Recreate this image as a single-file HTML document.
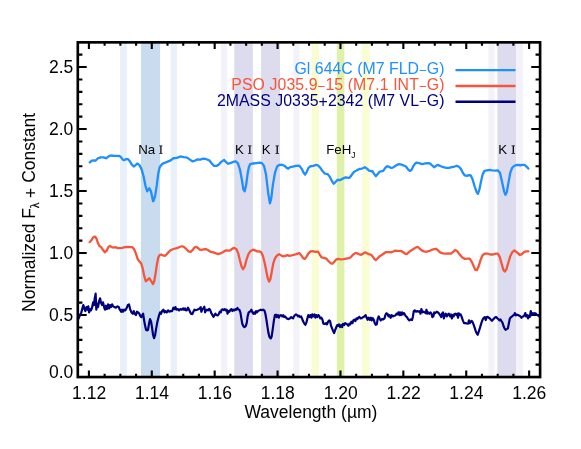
<!DOCTYPE html>
<html><head><meta charset="utf-8"><title>Spectra</title>
<style>html,body{margin:0;padding:0;background:#fff;}svg{display:block;will-change:transform;}text{font-family:"Liberation Sans",sans-serif;fill:#000;}.sf{font-family:"Liberation Serif",serif;}</style></head><body>
<svg width="581" height="449" viewBox="0 0 581 449">
<rect width="581" height="449" fill="#fff"/>
<rect x="120.1" y="42.35" width="6.8" height="334.7" fill="#e8f0fa"/>
<rect x="141.0" y="42.35" width="19.1" height="334.7" fill="#c9dcef"/>
<rect x="170.7" y="42.35" width="6.2" height="334.7" fill="#e8f0fa"/>
<rect x="221.0" y="42.35" width="6.2" height="334.7" fill="#f3f2f9"/>
<rect x="234.2" y="42.35" width="18.7" height="334.7" fill="#dcdcee"/>
<rect x="261.1" y="42.35" width="18.9" height="334.7" fill="#dcdcee"/>
<rect x="293.4" y="42.35" width="6.0" height="334.7" fill="#f3f2f9"/>
<rect x="311.7" y="42.35" width="7.3" height="334.7" fill="#fafcd2"/>
<rect x="336.8" y="42.35" width="7.6" height="334.7" fill="#dff0a8"/>
<rect x="362.2" y="42.35" width="7.3" height="334.7" fill="#fafcd2"/>
<rect x="488.3" y="42.35" width="6.3" height="334.7" fill="#f3f2f9"/>
<rect x="497.4" y="42.35" width="18.8" height="334.7" fill="#dcdcee"/>
<rect x="516.2" y="42.35" width="6.7" height="334.7" fill="#f3f2f9"/>
<path d="M88.90,377.05 v-6.6 M88.90,42.35 v6.6 M104.62,377.05 v-3.4 M104.62,42.35 v3.4 M120.35,377.05 v-3.4 M120.35,42.35 v3.4 M136.07,377.05 v-3.4 M136.07,42.35 v3.4 M151.79,377.05 v-6.6 M151.79,42.35 v6.6 M167.51,377.05 v-3.4 M167.51,42.35 v3.4 M183.24,377.05 v-3.4 M183.24,42.35 v3.4 M198.96,377.05 v-3.4 M198.96,42.35 v3.4 M214.68,377.05 v-6.6 M214.68,42.35 v6.6 M230.40,377.05 v-3.4 M230.40,42.35 v3.4 M246.13,377.05 v-3.4 M246.13,42.35 v3.4 M261.85,377.05 v-3.4 M261.85,42.35 v3.4 M277.57,377.05 v-6.6 M277.57,42.35 v6.6 M293.29,377.05 v-3.4 M293.29,42.35 v3.4 M309.02,377.05 v-3.4 M309.02,42.35 v3.4 M324.74,377.05 v-3.4 M324.74,42.35 v3.4 M340.46,377.05 v-6.6 M340.46,42.35 v6.6 M356.18,377.05 v-3.4 M356.18,42.35 v3.4 M371.91,377.05 v-3.4 M371.91,42.35 v3.4 M387.63,377.05 v-3.4 M387.63,42.35 v3.4 M403.35,377.05 v-6.6 M403.35,42.35 v6.6 M419.07,377.05 v-3.4 M419.07,42.35 v3.4 M434.80,377.05 v-3.4 M434.80,42.35 v3.4 M450.52,377.05 v-3.4 M450.52,42.35 v3.4 M466.24,377.05 v-6.6 M466.24,42.35 v6.6 M481.96,377.05 v-3.4 M481.96,42.35 v3.4 M497.68,377.05 v-3.4 M497.68,42.35 v3.4 M513.41,377.05 v-3.4 M513.41,42.35 v3.4 M529.13,377.05 v-6.6 M529.13,42.35 v6.6 M77.8,364.65 h4.6 M540.15,364.65 h-4.6 M77.8,352.25 h4.6 M540.15,352.25 h-4.6 M77.8,339.85 h4.6 M540.15,339.85 h-4.6 M77.8,327.45 h4.6 M540.15,327.45 h-4.6 M77.8,315.05 h8.9 M540.15,315.05 h-8.9 M77.8,302.65 h4.6 M540.15,302.65 h-4.6 M77.8,290.25 h4.6 M540.15,290.25 h-4.6 M77.8,277.85 h4.6 M540.15,277.85 h-4.6 M77.8,265.45 h4.6 M540.15,265.45 h-4.6 M77.8,253.05 h8.9 M540.15,253.05 h-8.9 M77.8,240.65 h4.6 M540.15,240.65 h-4.6 M77.8,228.25 h4.6 M540.15,228.25 h-4.6 M77.8,215.85 h4.6 M540.15,215.85 h-4.6 M77.8,203.45 h4.6 M540.15,203.45 h-4.6 M77.8,191.05 h8.9 M540.15,191.05 h-8.9 M77.8,178.65 h4.6 M540.15,178.65 h-4.6 M77.8,166.25 h4.6 M540.15,166.25 h-4.6 M77.8,153.85 h4.6 M540.15,153.85 h-4.6 M77.8,141.45 h4.6 M540.15,141.45 h-4.6 M77.8,129.05 h8.9 M540.15,129.05 h-8.9 M77.8,116.65 h4.6 M540.15,116.65 h-4.6 M77.8,104.25 h4.6 M540.15,104.25 h-4.6 M77.8,91.85 h4.6 M540.15,91.85 h-4.6 M77.8,79.45 h4.6 M540.15,79.45 h-4.6 M77.8,67.05 h8.9 M540.15,67.05 h-8.9 M77.8,54.65 h4.6 M540.15,54.65 h-4.6" stroke="#000" stroke-width="2.1" fill="none"/>
<path d="M89.70,162.39 L91.77,160.74 L93.83,160.33 L95.49,160.74 L97.97,158.26 L100.72,157.30 L103.47,157.30 L106.23,158.26 L108.98,156.20 L111.05,155.51 L113.80,155.92 L116.55,155.78 L119.31,155.78 L120.96,157.16 L122.75,159.64 L124.13,160.19 L126.19,159.09 L127.85,158.95 L129.64,161.02 L131.70,164.46 L133.77,166.52 L135.56,165.15 L137.21,163.49 L139.27,164.87 L141.34,168.59 L143.40,175.47 L145.47,185.80 L147.26,191.31 L149.33,188.28 L150.98,191.31 L153.04,201.22 L153.44,201.22 L155.23,195.44 L156.88,184.42 L158.26,173.41 L159.64,167.21 L161.70,164.46 L163.77,163.08 L166.52,162.12 L170.65,160.33 L173.41,158.26 L176.85,157.85 L180.29,156.47 L183.73,157.16 L187.18,157.57 L189.93,159.64 L192.69,161.43 L194.75,160.74 L197.50,159.36 L200.26,159.64 L203.01,158.67 L205.77,158.95 L209.21,160.33 L211.96,163.77 L214.03,165.83 L216.78,165.83 L218.85,164.46 L220.91,162.12 L223.67,160.33 L224.07,159.91 L226.13,162.12 L228.20,163.77 L230.95,162.81 L233.70,161.70 L235.77,161.29 L237.83,163.08 L239.90,169.28 L241.97,180.29 L243.34,189.24 L244.72,191.31 L246.10,185.11 L247.47,174.78 L248.85,167.21 L250.23,164.04 L252.98,163.49 L256.42,163.08 L259.87,162.67 L261.93,163.08 L264.00,165.83 L266.06,174.78 L268.13,192.69 L269.92,203.43 L271.29,198.19 L272.95,184.42 L275.01,172.72 L277.08,166.52 L279.14,164.87 L281.90,164.73 L284.65,165.83 L286.72,167.90 L288.37,168.59 L290.16,167.21 L292.91,166.52 L295.67,165.83 L298.42,165.56 L299.51,165.83 L301.57,168.59 L303.64,172.72 L305.02,174.51 L306.67,172.03 L308.46,167.90 L310.52,166.25 L313.28,165.83 L316.03,164.87 L318.10,165.42 L320.16,167.62 L322.23,170.65 L324.98,173.68 L327.73,174.10 L329.80,176.85 L331.87,180.98 L333.66,183.73 L335.31,182.36 L337.37,180.02 L340.13,180.02 L342.88,178.64 L345.64,177.26 L348.39,177.81 L349.77,177.54 L351.83,174.78 L353.90,172.03 L356.65,170.38 L359.40,169.00 L362.16,168.59 L364.91,167.21 L366.98,168.59 L369.04,170.65 L371.80,171.34 L372.20,170.93 L374.26,174.10 L375.91,176.16 L377.70,174.10 L379.49,171.76 L381.15,171.34 L383.21,170.93 L385.28,167.90 L386.93,166.25 L388.72,166.52 L390.78,167.90 L392.85,167.62 L395.60,165.83 L398.36,164.18 L401.11,164.46 L403.87,165.56 L405.93,166.52 L408.00,169.28 L409.79,170.93 L411.44,169.97 L413.50,165.83 L415.29,163.36 L416.95,162.67 L419.70,163.36 L422.45,164.04 L425.21,163.36 L427.96,163.22 L430.03,163.49 L432.09,165.42 L434.16,167.21 L436.22,165.83 L437.88,164.87 L440.75,166.25 L443.51,167.21 L446.26,167.90 L449.02,167.90 L451.77,167.21 L454.52,166.52 L456.59,165.83 L458.65,166.52 L460.72,168.59 L462.78,172.72 L464.85,175.47 L466.92,175.89 L468.98,175.06 L470.77,175.47 L472.42,178.92 L474.49,185.80 L476.55,192.00 L477.93,193.79 L479.31,189.93 L480.96,181.67 L482.75,174.10 L484.54,170.93 L486.88,170.38 L489.64,169.97 L492.39,170.38 L495.14,170.65 L497.90,170.38 L499.96,172.72 L502.03,181.67 L504.09,191.31 L505.47,194.75 L506.85,192.00 L508.50,182.36 L510.29,172.72 L512.01,168.05 L514.08,165.98 L516.14,165.15 L518.21,164.95 L520.28,165.26 L522.34,164.95 L524.41,164.95 L526.47,166.50 L528.33,168.56" fill="none" stroke="#1e8fff" stroke-width="2.3" stroke-linejoin="round" stroke-linecap="round"/>
<path d="M89.70,242.12 L91.77,239.64 L93.42,237.16 L95.21,236.61 L96.59,238.95 L97.97,243.08 L99.34,245.83 L101.13,247.21 L102.78,249.55 L104.85,252.31 L106.64,250.65 L108.29,247.21 L109.94,245.83 L111.73,247.21 L113.52,247.62 L115.18,247.21 L117.24,247.90 L119.31,248.18 L122.06,247.90 L124.82,247.21 L127.57,246.94 L130.32,247.21 L132.39,247.21 L134.18,249.28 L135.83,253.41 L137.90,259.60 L139.96,261.94 L141.34,263.73 L142.72,268.55 L144.09,275.44 L145.75,281.22 L147.54,279.85 L149.33,278.19 L150.98,280.95 L153.04,283.98 L154.13,281.64 L155.51,274.06 L156.88,264.42 L158.26,257.54 L159.64,255.06 L161.02,254.51 L163.08,255.47 L164.87,255.89 L166.52,254.51 L168.59,252.03 L170.65,250.24 L173.41,249.00 L176.85,248.18 L179.60,246.94 L182.36,246.25 L184.42,247.21 L186.49,249.28 L188.55,251.34 L190.62,251.76 L192.69,249.97 L194.34,247.62 L196.13,246.80 L197.92,247.90 L199.57,249.55 L201.64,249.97 L203.70,249.28 L205.77,249.00 L207.83,249.97 L210.59,251.76 L213.34,252.44 L216.09,253.41 L218.16,254.10 L220.22,253.41 L222.00,252.72 L224.07,251.34 L226.13,250.38 L228.20,250.65 L230.26,250.38 L232.33,248.59 L234.39,247.90 L236.46,249.28 L238.25,253.41 L239.90,260.29 L241.55,266.49 L243.07,269.24 L244.72,266.49 L246.51,259.60 L248.44,254.10 L250.64,250.93 L252.98,249.69 L255.05,250.38 L257.11,251.34 L259.18,251.34 L261.24,252.31 L263.03,256.16 L264.69,263.05 L266.34,271.31 L267.71,278.19 L269.09,281.64 L270.47,278.88 L271.85,271.31 L273.22,263.73 L275.01,258.23 L277.08,255.47 L279.14,254.10 L281.21,255.47 L283.27,256.44 L285.34,255.89 L287.40,255.06 L289.47,255.89 L291.54,255.47 L293.60,254.78 L296.35,254.10 L299.11,253.13 L299.51,253.13 L301.57,255.89 L303.36,258.23 L304.74,258.92 L306.39,256.85 L308.46,253.41 L310.52,251.34 L312.59,251.07 L315.34,251.76 L318.10,251.76 L319.89,254.78 L321.54,257.26 L324.02,257.81 L326.36,258.64 L328.42,260.98 L330.49,263.05 L332.28,263.73 L334.21,261.94 L336.00,259.60 L338.06,258.92 L340.82,259.33 L343.57,259.19 L346.32,258.64 L349.08,258.23 L351.14,256.85 L353.21,254.51 L355.27,253.13 L356.65,253.13 L358.72,254.10 L361.19,254.78 L362.85,253.68 L364.91,252.44 L366.00,252.72 L368.75,254.10 L371.23,254.78 L372.88,256.85 L374.54,259.19 L375.91,260.02 L377.70,258.23 L379.77,256.16 L382.52,254.51 L385.97,252.03 L388.72,252.03 L390.78,252.44 L392.85,251.76 L395.19,250.65 L397.94,250.93 L401.11,251.07 L403.18,252.31 L405.24,253.68 L406.62,254.10 L408.69,252.31 L410.75,250.65 L413.50,249.00 L415.57,247.62 L417.64,246.94 L419.70,248.59 L421.77,250.38 L423.83,251.34 L426.59,251.76 L429.34,250.93 L432.09,249.69 L434.85,249.00 L436.50,249.00 L438.00,250.38 L440.07,252.31 L442.82,253.41 L445.57,253.68 L448.33,253.41 L451.08,253.68 L453.15,251.76 L455.21,249.97 L457.00,250.93 L459.34,254.10 L462.10,257.26 L464.85,258.92 L467.60,258.64 L469.67,258.64 L471.73,261.67 L473.80,266.49 L475.45,269.93 L476.83,270.21 L478.62,266.49 L480.69,259.60 L482.75,255.06 L484.82,253.68 L487.57,253.68 L490.32,254.51 L493.08,254.51 L495.83,253.68 L497.90,253.68 L499.69,256.85 L501.61,263.73 L503.40,269.93 L504.78,271.58 L506.43,269.24 L508.22,263.05 L510.29,256.16 L512.35,252.03 L514.42,250.38 L516.49,252.03 L517.87,253.13 L519.93,255.06 L522.00,254.10 L524.06,252.03 L526.13,251.34 L528.47,251.34" fill="none" stroke="#f5563a" stroke-width="2.3" stroke-linejoin="round" stroke-linecap="round"/>
<path d="M78.00,319.08 L78.67,318.41 L80.01,315.07 L81.35,312.39 L82.41,308.39 L83.35,305.04 L84.29,308.39 L85.35,311.06 L86.42,307.05 L87.36,309.72 L88.29,306.38 L89.10,312.39 L90.03,309.05 L90.97,310.39 L92.04,307.72 L93.10,302.37 L94.04,305.04 L94.71,298.36 L95.64,293.69 L96.31,309.72 L97.11,303.71 L98.05,307.05 L98.98,301.70 L100.05,298.36 L101.12,303.04 L102.06,305.04 L102.99,302.37 L104.06,307.05 L105.00,309.72 L105.93,305.71 L107.00,309.05 L108.07,304.38 L109.14,308.39 L110.08,305.04 L111.01,307.05 L112.08,304.38 L113.15,306.38 L114.49,307.05 L115.82,307.72 L117.43,306.38 L118.76,307.05 L119.83,309.72 L121.17,311.73 L122.10,309.72 L123.04,311.73 L124.11,309.72 L125.18,310.39 L126.51,308.39 L127.85,305.04 L129.05,304.38 L130.12,309.05 L131.46,312.39 L132.79,313.73 L133.74,311.06 L134.68,313.73 L136.01,315.07 L136.95,311.73 L138.02,312.39 L139.35,313.73 L140.42,316.40 L141.36,317.07 L142.29,315.07 L143.10,313.73 L144.03,319.74 L144.97,325.09 L146.04,329.77 L147.10,330.43 L148.04,329.77 L148.98,323.75 L150.04,319.08 L151.11,321.75 L152.05,327.76 L152.98,334.44 L154.05,338.18 L155.12,335.11 L156.06,329.10 L157.39,321.75 L158.73,316.40 L160.07,312.39 L161.00,313.73 L162.07,311.06 L163.41,309.72 L164.48,312.39 L165.41,311.06 L166.75,312.39 L168.08,310.39 L169.42,311.73 L170.76,311.06 L172.09,311.06 L173.43,307.72 L174.50,309.05 L175.43,307.05 L176.50,309.72 L177.84,309.05 L179.18,310.39 L180.51,309.05 L181.85,309.72 L183.18,308.39 L184.00,309.72 L185.07,308.39 L186.00,310.39 L186.94,310.12 L188.01,307.72 L189.08,309.72 L190.01,311.73 L190.95,313.73 L192.29,314.13 L193.35,311.73 L194.42,309.72 L195.76,310.12 L197.10,309.72 L198.70,309.05 L199.77,308.39 L200.70,307.05 L201.37,311.73 L202.44,309.05 L203.38,308.39 L204.31,306.65 L205.11,312.39 L206.05,310.39 L206.98,309.72 L208.05,310.39 L209.12,308.79 L210.06,309.72 L210.99,312.39 L212.06,314.40 L213.40,316.80 L214.47,315.07 L215.40,313.73 L216.47,315.07 L217.67,315.47 L218.74,314.13 L219.81,311.73 L220.75,312.39 L221.68,309.72 L222.75,309.32 L223.82,310.12 L224.76,309.05 L225.69,310.39 L226.76,309.72 L227.56,313.73 L228.50,311.06 L229.43,311.73 L230.50,309.72 L231.44,309.05 L232.37,311.06 L233.44,309.72 L234.51,310.39 L235.45,309.05 L236.38,309.72 L237.45,307.98 L238.00,309.32 L239.34,309.72 L240.41,312.39 L241.34,318.41 L242.28,323.75 L243.35,326.16 L244.41,327.09 L245.75,326.16 L246.69,323.08 L247.62,316.40 L248.69,312.39 L249.76,311.73 L250.69,311.06 L251.36,309.72 L252.43,312.39 L253.37,313.73 L254.30,312.39 L255.10,313.73 L256.04,311.06 L256.98,312.39 L258.04,311.06 L259.38,310.39 L260.72,309.72 L262.05,310.12 L263.39,309.72 L264.46,310.66 L265.39,313.73 L266.33,319.08 L267.40,326.43 L268.47,333.11 L269.54,337.12 L270.74,338.45 L271.67,336.45 L272.74,329.10 L273.81,321.08 L274.88,315.07 L275.95,314.67 L276.75,317.07 L277.82,315.07 L278.76,317.74 L279.69,315.73 L280.76,315.07 L282.10,316.40 L283.17,315.07 L284.10,317.07 L285.04,316.40 L286.11,317.74 L287.18,318.67 L288.51,319.08 L289.85,318.41 L291.18,317.07 L292.00,317.74 L293.07,318.41 L294.00,316.40 L294.94,315.07 L296.01,314.40 L297.08,315.07 L298.01,316.40 L298.95,315.73 L300.02,317.07 L301.09,316.40 L302.02,318.41 L302.96,321.08 L304.03,323.08 L305.36,324.82 L306.43,322.42 L307.37,318.41 L308.30,315.07 L309.37,317.07 L310.44,315.07 L311.38,317.74 L312.31,314.40 L313.38,316.40 L314.45,314.40 L315.39,317.74 L316.32,315.07 L317.39,317.07 L318.46,315.07 L319.39,316.40 L320.33,318.41 L321.40,317.74 L322.47,319.74 L323.40,323.75 L324.74,324.02 L326.08,323.08 L327.01,324.42 L328.08,321.75 L329.15,320.41 L330.08,321.08 L331.02,325.76 L332.09,328.43 L333.16,331.10 L334.09,333.11 L335.03,330.43 L336.10,327.76 L337.17,325.09 L338.10,325.76 L339.04,324.42 L340.11,327.09 L341.18,325.09 L342.11,327.09 L343.05,323.75 L344.12,325.09 L345.18,323.08 L346.00,323.75 L347.34,324.42 L348.41,325.76 L349.34,323.75 L350.28,324.42 L351.35,321.75 L352.41,323.08 L353.35,320.41 L354.29,319.74 L355.35,321.08 L356.42,318.41 L357.36,319.08 L358.29,317.74 L359.36,316.80 L360.43,318.41 L361.77,318.14 L363.10,317.07 L364.44,316.40 L365.51,315.07 L366.71,317.74 L367.65,319.74 L368.72,317.74 L369.79,319.74 L370.86,317.74 L371.66,320.41 L372.73,318.14 L373.80,319.74 L374.73,323.08 L375.67,324.82 L376.73,324.42 L377.80,318.41 L378.74,316.40 L379.67,318.41 L380.74,320.41 L381.81,319.08 L383.15,319.48 L384.49,318.41 L385.42,315.07 L386.36,313.33 L387.43,313.73 L388.49,316.40 L389.56,315.07 L390.63,317.74 L391.70,315.07 L392.77,316.40 L394.11,315.73 L395.44,315.47 L396.51,313.73 L397.58,314.40 L398.38,312.39 L399.45,315.07 L400.00,312.39 L401.07,315.07 L402.00,312.39 L402.94,314.40 L404.01,313.06 L405.08,315.07 L406.01,316.40 L406.95,317.07 L408.02,319.08 L409.35,320.41 L410.69,319.48 L412.03,320.01 L412.96,316.40 L413.76,311.06 L414.70,310.39 L416.04,311.73 L417.37,311.06 L418.71,311.73 L419.78,311.06 L420.45,313.73 L421.38,309.05 L422.45,312.39 L423.52,311.73 L424.72,312.39 L425.66,313.06 L426.46,309.72 L427.39,313.73 L428.33,312.39 L429.40,313.73 L430.47,312.39 L431.54,313.73 L432.34,317.07 L433.41,316.40 L434.21,312.39 L435.41,313.06 L436.75,311.73 L438.08,312.39 L439.15,313.73 L440.09,315.07 L441.16,317.07 L442.09,313.73 L443.03,312.39 L443.83,318.41 L444.77,315.07 L445.70,313.73 L446.77,316.40 L447.84,314.40 L448.91,313.73 L449.98,316.40 L451.05,314.40 L451.85,318.41 L452.78,315.07 L453.72,316.40 L454.00,314.40 L455.34,313.73 L456.41,315.07 L457.34,313.73 L458.01,317.74 L458.81,313.33 L459.61,315.07 L460.68,314.40 L461.75,317.07 L462.82,320.41 L464.02,323.08 L465.36,323.08 L466.69,323.49 L468.03,323.75 L468.97,320.41 L469.77,323.08 L470.70,321.75 L471.64,320.81 L472.71,322.42 L473.78,325.09 L474.85,328.43 L475.92,331.77 L476.98,333.78 L477.79,334.71 L478.72,331.77 L479.79,328.43 L480.73,325.09 L481.80,321.75 L482.86,319.08 L483.93,317.74 L484.73,317.07 L485.80,320.01 L486.74,317.07 L487.67,316.80 L488.74,317.74 L489.81,318.41 L490.88,319.74 L491.95,320.81 L493.02,319.48 L494.09,318.41 L495.16,317.34 L496.23,317.07 L497.43,318.41 L498.50,319.08 L499.43,320.41 L500.50,319.48 L501.44,321.08 L502.37,322.42 L503.44,325.76 L504.51,328.43 L505.58,329.77 L506.78,329.10 L507.85,328.43 L508.79,323.75 L509.86,318.41 L511.19,317.07 L512.53,316.00 L512.98,315.47 L514.05,315.07 L514.86,313.06 L515.79,315.47 L516.73,314.67 L518.06,315.07 L519.40,315.73 L520.47,316.40 L521.40,317.74 L522.34,316.80 L523.41,316.40 L524.48,315.07 L525.28,313.06 L526.08,316.40 L527.15,315.07 L528.08,318.41 L529.02,315.73 L529.82,316.80 L530.76,311.06 L531.69,315.07 L532.76,313.06 L533.83,313.73 L534.90,313.06 L535.97,313.73 L537.04,315.07 L538.11,315.47 L539.18,316.40" fill="none" stroke="#00007f" stroke-width="2.2" stroke-linejoin="round" stroke-linecap="round"/>
<rect x="77.8" y="42.35" width="462.3" height="334.7" fill="none" stroke="#000" stroke-width="2.65"/>
<text x="89.1" y="398.8" font-size="17.5" text-anchor="middle">1.12</text>
<text x="152.0" y="398.8" font-size="17.5" text-anchor="middle">1.14</text>
<text x="214.9" y="398.8" font-size="17.5" text-anchor="middle">1.16</text>
<text x="277.8" y="398.8" font-size="17.5" text-anchor="middle">1.18</text>
<text x="340.7" y="398.8" font-size="17.5" text-anchor="middle">1.20</text>
<text x="403.6" y="398.8" font-size="17.5" text-anchor="middle">1.22</text>
<text x="466.4" y="398.8" font-size="17.5" text-anchor="middle">1.24</text>
<text x="529.3" y="398.8" font-size="17.5" text-anchor="middle">1.26</text>
<text x="73.3" y="377.6" font-size="17.5" text-anchor="end">0.0</text>
<text x="73.3" y="321.2" font-size="17.5" text-anchor="end">0.5</text>
<text x="73.3" y="259.2" font-size="17.5" text-anchor="end">1.0</text>
<text x="73.3" y="197.2" font-size="17.5" text-anchor="end">1.5</text>
<text x="73.3" y="135.2" font-size="17.5" text-anchor="end">2.0</text>
<text x="73.3" y="73.2" font-size="17.5" text-anchor="end">2.5</text>
<text x="310.9" y="417.8" font-size="17.5" text-anchor="middle">Wavelength (µm)</text>
<text transform="translate(34.6,212.4) rotate(-90)" font-size="17.5" text-anchor="middle">Normalized F<tspan font-size="12" dy="4.5" dx="-0.3" class="sf" style="stroke:#000;stroke-width:0.25">λ</tspan><tspan dy="-2.1" dx="-0.4"> +</tspan><tspan dy="-2.4"> Constant</tspan></text>
<text x="444.5" y="74.3" font-size="15.85" text-anchor="end" letter-spacing="0.03" style="fill:#1e8fff">Gl 644C (M7 FLD<tspan dy="0.8" font-size="13.2">−</tspan><tspan dy="-0.8">G)</tspan></text>
<text x="444.5" y="89.95" font-size="15.85" text-anchor="end" letter-spacing="0.09" style="fill:#f5563a">PSO J035.9<tspan dy="0.8" font-size="13.2">−</tspan><tspan dy="-0.8">15 (M7.1 INT</tspan><tspan dy="0.8" font-size="13.2">−</tspan><tspan dy="-0.8">G)</tspan></text>
<text x="444.5" y="105.6" font-size="15.85" text-anchor="end" letter-spacing="0.04" style="fill:#00007f">2MASS J0335<tspan dy="0.9">+</tspan><tspan dy="-0.9">2342 (M7 VL</tspan><tspan dy="0.8" font-size="13.2">−</tspan><tspan dy="-0.8">G)</tspan></text>
<path d="M455.5,70.1 H515.5" stroke="#1e8fff" stroke-width="2.4"/>
<path d="M455.5,85.95 H515.5" stroke="#f5563a" stroke-width="2.4"/>
<path d="M455.5,101.8 H515.5" stroke="#00007f" stroke-width="2.4"/>
<text x="138.2" y="153.8" font-size="13.3">Na</text><path d="M159.30,145.4 h3.20 v0.75 h-0.97 V153.05 h0.97 v0.75 h-3.20 v-0.75 h0.97 V146.15 h-0.97 z" fill="#000"/>
<text x="234.9" y="153.8" font-size="13.3">K</text><path d="M248.10,145.4 h3.40 v0.75 h-1.08 V153.05 h1.08 v0.75 h-3.40 v-0.75 h1.08 V146.15 h-1.08 z" fill="#000"/>
<text x="261.8" y="153.8" font-size="13.3">K</text><path d="M275.50,145.4 h3.40 v0.75 h-1.07 V153.05 h1.07 v0.75 h-3.40 v-0.75 h1.07 V146.15 h-1.07 z" fill="#000"/>
<text x="498.2" y="153.8" font-size="13.3">K</text><path d="M511.60,145.4 h3.40 v0.75 h-1.07 V153.05 h1.07 v0.75 h-3.40 v-0.75 h1.07 V146.15 h-1.07 z" fill="#000"/>
<text x="326.2" y="153.9" font-size="13.3">FeH<tspan font-size="8.3" dy="3.7">J</tspan></text>
</svg></body></html>
